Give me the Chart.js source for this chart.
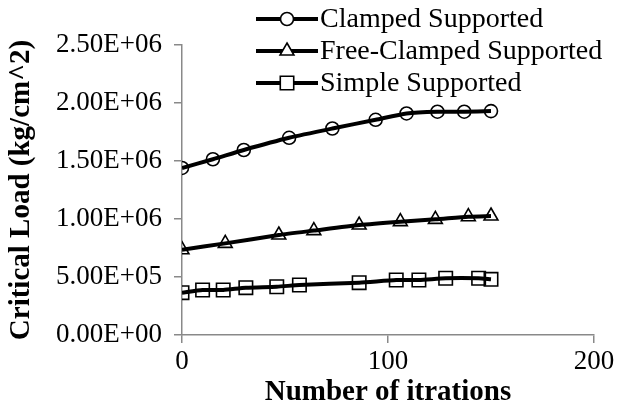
<!DOCTYPE html>
<html>
<head>
<meta charset="utf-8">
<script src="https://cdn.jsdelivr.net/npm/chart.js@4"></script>
<style>
  html, body { margin: 0; padding: 0; background: #fff; }
  #wrap { width: 631px; height: 412px; }
</style>
</head>
<body>
<div id="wrap"><canvas id="chart" width="631" height="412"></canvas></div>
<script>
// data
const clampedX = [0, 15, 30, 52, 73, 94, 109, 124, 137, 150];
const clampedY = [1.44e6, 1.515e6, 1.595e6, 1.70e6, 1.78e6, 1.855e6, 1.91e6, 1.925e6, 1.925e6, 1.93e6];

const freeX = [0, 21, 47, 64, 86, 106, 123, 139, 150];
const freeY = [0.735e6, 0.79e6, 0.862e6, 0.90e6, 0.948e6, 0.977e6, 0.997e6, 1.02e6, 1.026e6];

const simpleX = [0, 10, 20, 31, 46, 57, 86, 104, 115, 128, 144, 150];
const simpleY = [0.365e6, 0.388e6, 0.388e6, 0.408e6, 0.416e6, 0.431e6, 0.451e6, 0.474e6, 0.474e6, 0.489e6, 0.489e6, 0.48e6];

const seriesNames = ['Clamped Supported', 'Free-Clamped Supported', 'Simple Supported'];
const xTitle = 'Number of itrations';
const yTitle = 'Critical Load (kg/cm^2)';

const serif = "'Liberation Serif', 'Times New Roman', serif";
const axisGrey = '#898989';

function toPoints(xs, ys) {
    return xs.map((x, i) => ({ x: x, y: ys[i] }));
}

// Excel style 2.50E+06
function sci(v) {
    if (v === 0) return '0.00E+00';
    const e = Math.floor(Math.log10(v) + 1e-9);
    const m = v / Math.pow(10, e);
    return m.toFixed(2) + 'E+' + String(e).padStart(2, '0');
}

function series(label, xs, ys, style, radius) {
    return {
        label: label,
        data: toPoints(xs, ys),
        borderColor: '#000',
        borderWidth: 4,
        tension: 0.2,
        pointStyle: style,
        pointRadius: radius,
        pointBorderWidth: 1.6,
        pointBorderColor: '#000',
        pointBackgroundColor: 'rgba(0,0,0,0)',
        fill: false
    };
}

// legend drawn by hand so it can sit over the top of the plot
const legendPlugin = {
    id: 'stackedLegend',
    afterDraw(chart) {
        const ctx = chart.ctx;
        const x0 = 256, x1 = 318, top = 19, step = 32;
        ctx.save();
        chart.data.datasets.forEach((ds, i) => {
            const y = top + i * step;
            ctx.strokeStyle = '#000';
            ctx.lineWidth = 4;
            ctx.beginPath();
            ctx.moveTo(x0, y);
            ctx.lineTo(x1, y);
            ctx.stroke();
            ctx.lineWidth = 1.6;
            ctx.fillStyle = '#fff';
            Chart.helpers.drawPoint(ctx, {
                pointStyle: ds.pointStyle,
                radius: ds.pointRadius,
                rotation: 0,
                borderWidth: 1.6
            }, (x0 + x1) / 2, y);
            ctx.fillStyle = '#000';
            ctx.font = '28px ' + serif;
            ctx.textBaseline = 'middle';
            ctx.textAlign = 'left';
            ctx.fillText(ds.label, x1 + 2, y + 1);
        });
        ctx.restore();
    }
};

new Chart(document.getElementById('chart').getContext('2d'), {
    type: 'line',
    data: {
        datasets: [
            series(seriesNames[0], clampedX, clampedY, 'circle', 6.5),
            series(seriesNames[1], freeX, freeY, 'triangle', 8),
            series(seriesNames[2], simpleX, simpleY, 'rect', 9.5)
        ]
    },
    options: {
        responsive: false,
        animation: false,
        layout: { padding: { top: 45, right: 37, left: 0, bottom: 0 } },
        plugins: {
            legend: { display: false },
            tooltip: { enabled: false }
        },
        scales: {
            x: {
                type: 'linear',
                min: 0,
                max: 200,
                ticks: { stepSize: 100, color: '#000', font: { family: serif, size: 27 }, padding: 3, maxRotation: 0 },
                grid: { drawOnChartArea: false, drawTicks: true, tickLength: 8, color: axisGrey, lineWidth: 1.5 },
                border: { color: axisGrey, width: 1.5 },
                title: { display: true, text: xTitle, color: '#000', font: { family: serif, size: 29, weight: 'bold' }, padding: { top: 0, bottom: 2 } },
                afterFit(scale) { scale.height = 77; }
            },
            y: {
                min: 0,
                max: 2500000,
                ticks: { stepSize: 500000, color: '#000', font: { family: serif, size: 27 }, padding: 12, callback: v => sci(v) },
                grid: { drawOnChartArea: false, drawTicks: true, tickLength: 8, color: axisGrey, lineWidth: 1.5 },
                border: { color: axisGrey, width: 1.5 },
                title: { display: true, text: yTitle, color: '#000', font: { family: serif, size: 29, weight: 'bold' }, padding: { top: 4, bottom: 0 } },
                afterFit(scale) { scale.width = 182; }
            }
        }
    },
    plugins: [legendPlugin]
});
</script>
</body>
</html>
